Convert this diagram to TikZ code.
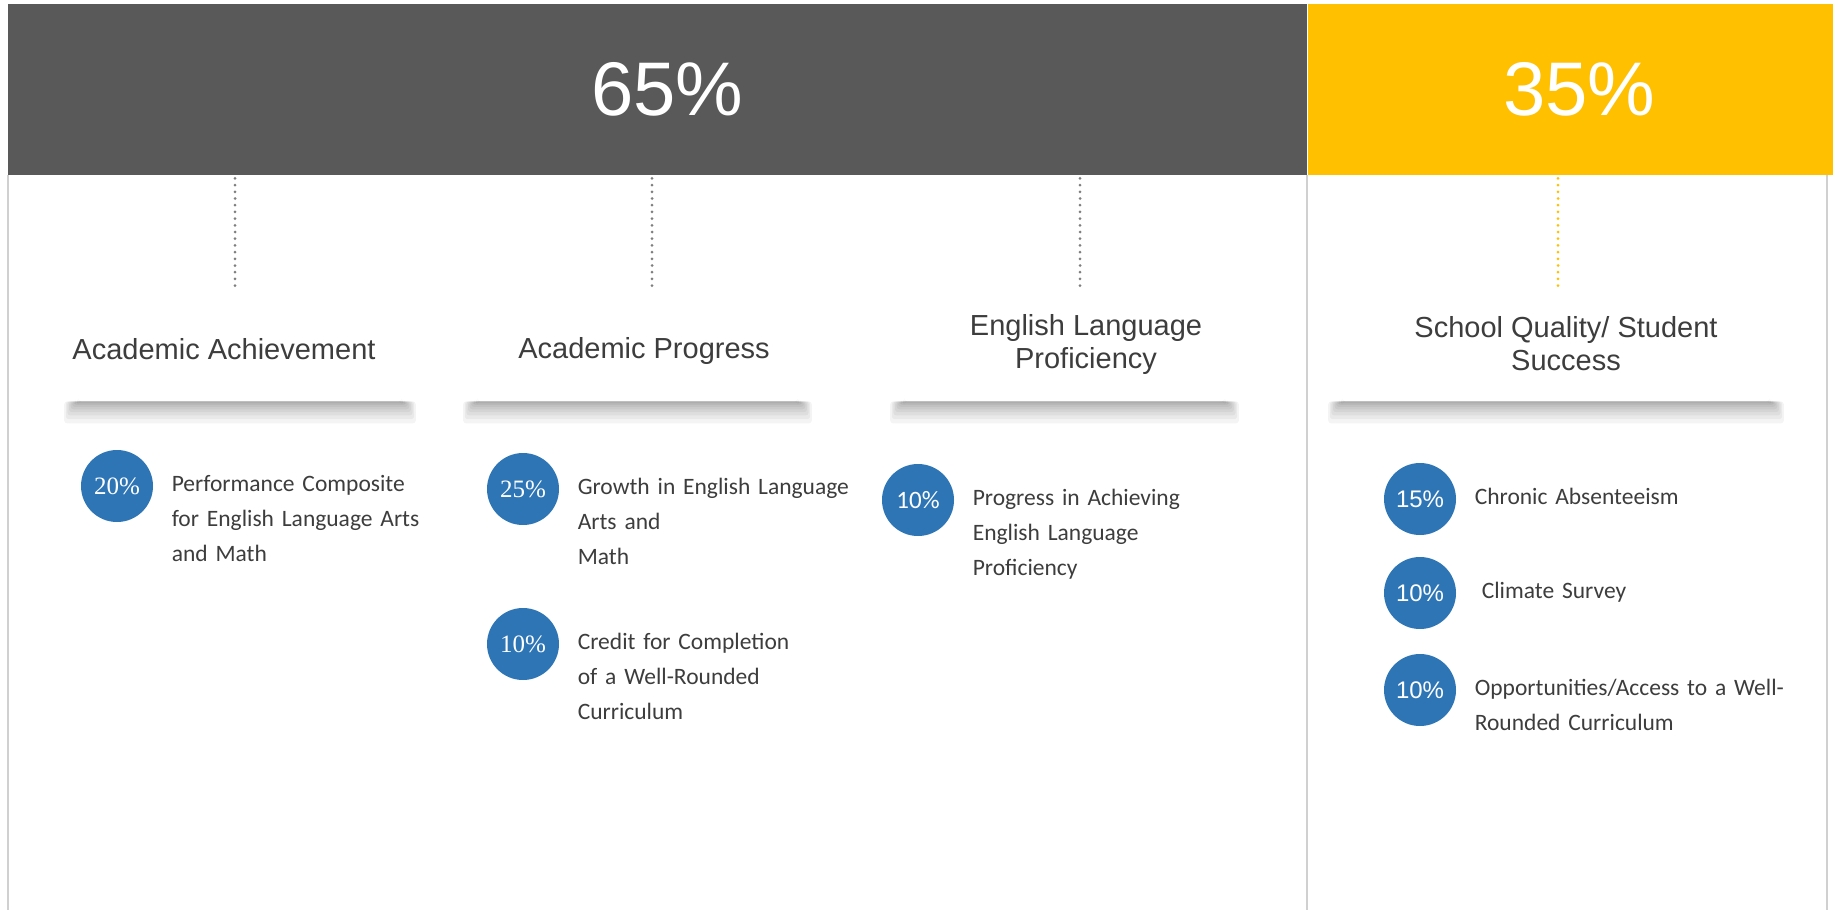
\documentclass[tikz,border=0pt]{standalone}
\usepackage{fontspec}
\setmainfont{Carlito}
\newfontfamily\headfont{Liberation Sans}
\newfontfamily\pctserif{Liberation Serif}
\usetikzlibrary{positioning}

\definecolor{barGray}{HTML}{595959}
\definecolor{barGold}{HTML}{FFC000}
\definecolor{dotBlue}{HTML}{2E75B6}
\definecolor{inkGray}{HTML}{3D3D3D}
\definecolor{ruleGray}{HTML}{D0D0D0}
\definecolor{dotGray}{HTML}{7F7F7F}

\tikzset{
	bar/.style={rectangle, inner sep=0pt, minimum height=85.5pt, text=white, font=\headfont\fontsize{38pt}{38pt}\selectfont},
	headbox/.style={rectangle, fill=white, inner sep=0pt, minimum height=57pt},
	title/.style={inner sep=0pt, align=center, text=inkGray, font=\headfont\fontsize{14.5pt}{16.5pt}\selectfont},
	pct/.style={circle, fill=dotBlue, inner sep=0pt, minimum size=36pt, text=white, font=\headfont\fontsize{12pt}{12pt}\selectfont},
	pctserif/.style={pct, font=\pctserif\fontsize{12.5pt}{12.5pt}\selectfont},
	item/.style={inner sep=0pt, anchor=base west, yshift=-2.5pt, text width=170pt, align=left, text=inkGray, font=\fontsize{11.75pt}{17.5pt}\selectfont},
	rule/.style={ruleGray, line width=1pt},
	dots/.style={line width=1.5pt, dash pattern=on 0pt off 3.35pt, line cap=round}
}

\newcommand\boxshadow[1]{%
	\foreach \k in {1,...,10}
		\fill[black, opacity=0.045, rounded corners=1.5pt] ([xshift={\k*0.8pt}]#1.south west) rectangle ([xshift={-\k*0.8pt}, yshift={-(11-\k)*(11-\k)*0.11pt}]#1.south east);}

\begin{document}
\begin{tikzpicture}[x=0.5pt, y=-0.5pt]
				\fill[white] (0,0) rectangle (1835,910);
				\useasboundingbox (0,0) rectangle (1835,910);
				\node[bar, fill=barGray, minimum width=649.5pt] (bar65) at (657.5,89.5) {\raisebox{-1.5pt}{\hspace{10pt}65\%}};
				\node[bar, fill=barGold, minimum width=262.5pt, right=0pt of bar65] (bar35) {\raisebox{-1.5pt}{\hspace{9pt}35\%}};
				\draw[rule] (bar65.south west) -- ++(0,735);
				\draw[rule] (bar65.south east) -- ++(0,735);
				\draw[rule] ([xshift=-3pt]bar35.south east) -- ++(0,735);
				\node[headbox, minimum width=177pt] (bach) at (240,344) {};
				\node[headbox, minimum width=175.5pt] (bprog) at (637.5,344) {};
				\node[headbox, minimum width=175.5pt] (belp) at (1064.5,344) {};
				\node[headbox, minimum width=229pt] (bsqss) at (1556,344) {};
				\boxshadow{bach}
				\boxshadow{bprog}
				\boxshadow{belp}
				\boxshadow{bsqss}
				\node[title] (tach) at ([xshift=-8pt, yshift=-2.5pt]bach) {Academic Achievement};
				\node[title] (tprog) at ([xshift=3.25pt, yshift=-3.5pt]bprog) {Academic Progress};
				\node[title] (telp) at ([xshift=10.75pt]belp) {English Language\\Proficiency};
				\node[title] (tsqss) at ([xshift=5pt]bsqss) {School Quality/ Student\\Success};
				\draw[dots, dotGray] ([xshift=-2.5pt]bach.north |- bar65.south) ++(0,3) -- ([xshift=-2.5pt]bach.north);
				\draw[dots, dotGray] ([xshift=7.25pt]bprog.north |- bar65.south) ++(0,3) -- ([xshift=7.25pt]bprog.north);
				\draw[dots, dotGray] ([xshift=7.75pt]belp.north |- bar65.south) ++(0,3) -- ([xshift=7.75pt]belp.north);
				\draw[dots, barGold] ([xshift=1pt]bsqss.north |- bar35.south) ++(0,3) -- ([xshift=1pt]bsqss.north);
				\node[pctserif] (p20) at (117,486) {20\%};
				\node[right=9pt of p20, item] (perf) {Performance Composite\\for English Language Arts\\and Math};
				\node[pctserif] (p25) at (523,489) {25\%};
				\node[right=9pt of p25, item] (growth) {Growth in English Language\\Arts and\\Math};
				\node[pctserif] (p10cr) at (523,644) {10\%};
				\node[right=9pt of p10cr, item] (credit) {Credit for Completion\\of a Well-Rounded\\Curriculum};
				\node[pct, font=\fontsize{12.5pt}{12.5pt}\selectfont] (p10elp) at (918,500) {10\%};
				\node[right=9pt of p10elp, item] (elpprog) {Progress in Achieving\\English Language\\Proficiency};
				\node[pct] (p15) at (1420,499) {15\%};
				\node[right=9pt of p15, item] (chronic) {Chronic Absenteeism};
				\node[pct] (p10cs) at (1420,593) {10\%};
				\node[right=9pt of p10cs, item] (climate) {\hspace{3.5pt}Climate Survey};
				\node[pct] (p10op) at (1420,690) {10\%};
				\node[right=9pt of p10op, item] (access) {Opportunities/Access to a Well-\\Rounded Curriculum};
\end{tikzpicture}
\end{document}
